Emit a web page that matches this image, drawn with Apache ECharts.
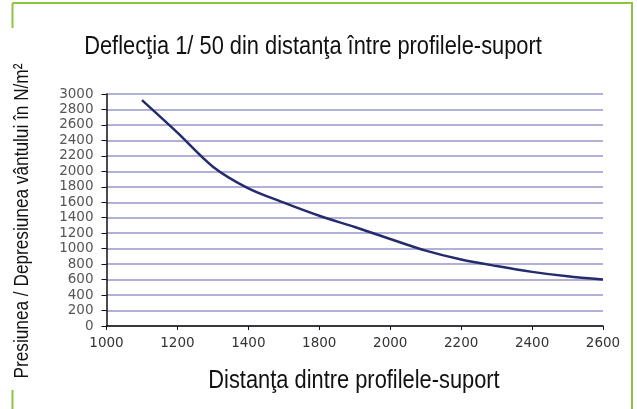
<!DOCTYPE html>
<html>
<head>
<meta charset="utf-8">
<script src="https://cdn.jsdelivr.net/npm/echarts@6/dist/echarts.min.js"></script>
<style>
  html, body { margin: 0; padding: 0; background: #fff; }
  #chart { width: 637px; height: 409px; }
</style>
</head>
<body>
<div id="chart"></div>
<script>
// categorii pe axa x (Excel: axa de categorii, 1600 lipseste)
var distante = ['1000', '1100', '1200', '1300', '1400', '1600', '1800', '1900',
                '2000', '2100', '2200', '2300', '2400', '2500', '2600'];
// presiune / depresiune
var presiune = [null, 2920, 2500, 2060, 1780, 1595, 1425, 1280,
                1125, 975, 860, 775, 700, 642, 600];
var yTicks = [0, 3000, 200];

var titlu = 'Deflecţia 1/ 50 din distanţa între profilele-suport';
var numeX = 'Distanţa dintre profilele-suport';
var numeY = 'Presiunea / Depresiunea vântului în N/m²';

// fontul original e ingust (Arial Narrow) -> Liberation Sans comprimat pe orizontala
var ingust = 0.84;
var chart = echarts.init(document.getElementById('chart'));

var option = {
    backgroundColor: '#fff',
    animation: false,
    grid: {
        left: 106.5,
        right: 34,
        top: 94,
        bottom: 83,
        containLabel: false
    },
    xAxis: {
        type: 'category',
        data: distante,
        boundaryGap: false,
        axisLine: { lineStyle: { color: '#111', width: 1.5 } },
        axisTick: { interval: 1, length: 4, lineStyle: { color: '#111' } },
        axisLabel: {
            interval: 1,
            margin: 10,
            fontFamily: 'DejaVu Sans',
            fontSize: 13.5,
            color: '#333'
        },
        splitLine: { show: false }
    },
    yAxis: {
        type: 'value',
        min: yTicks[0],
        max: yTicks[1],
        interval: yTicks[2],
        axisLine: { show: true, lineStyle: { color: '#111', width: 1.5 } },
        axisTick: { show: true, length: 5, lineStyle: { color: '#111' } },
        axisLabel: {
            margin: 13,
            fontFamily: 'DejaVu Sans',
            fontSize: 13.5,
            color: '#555',
            formatter: function (v) { return String(v); }
        },
        splitLine: { lineStyle: { color: '#9696cc', width: 1.5 } }
    },
    series: [{
        type: 'line',
        data: presiune,
        smooth: 0.3,
        showSymbol: false,
        lineStyle: { color: '#252b6c', width: 2.5 }
    }],
    graphic: [
        // chenarul verde
        { type: 'line', shape: { x1: 12.5, y1: 3, x2: 633, y2: 3 }, style: { stroke: '#8cc63f', lineWidth: 2 } },
        { type: 'line', shape: { x1: 632, y1: 3, x2: 632, y2: 409 }, style: { stroke: '#8cc63f', lineWidth: 2 } },
        { type: 'line', shape: { x1: 12.5, y1: 3, x2: 12.5, y2: 28 }, style: { stroke: '#8cc63f', lineWidth: 2 } },
        { type: 'line', shape: { x1: 12.5, y1: 390, x2: 12.5, y2: 409 }, style: { stroke: '#8cc63f', lineWidth: 2 } },
        // titlu si numele axelor
        {
            type: 'text', x: 313, y: 46.5, scaleX: ingust,
            style: { text: titlu, font: '26px "Liberation Sans"', fill: '#111', align: 'center', verticalAlign: 'middle' }
        },
        {
            type: 'text', x: 354, y: 380.5, scaleX: ingust,
            style: { text: numeX, font: '26px "Liberation Sans"', fill: '#111', align: 'center', verticalAlign: 'middle' }
        },
        {
            type: 'text', x: 22, y: 221, scaleX: ingust, rotation: Math.PI / 2,
            style: { text: numeY, font: '20.5px "Liberation Sans"', fill: '#111', align: 'center', verticalAlign: 'middle' }
        }
    ]
};

chart.setOption(option);
</script>
</body>
</html>
